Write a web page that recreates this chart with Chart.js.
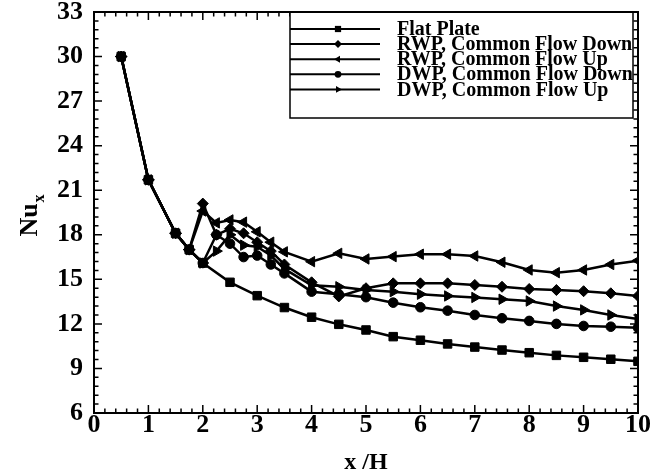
<!DOCTYPE html>
<html><head><meta charset="utf-8">
<script src="https://cdn.jsdelivr.net/npm/chart.js@4.4.1/dist/chart.umd.min.js"></script>
<style>html,body{margin:0;padding:0;background:#fff;} #wrap{width:668px;height:475px;}</style>
</head><body><div id="wrap"><canvas id="c" width="668" height="475"></canvas></div>
<script>
const xFlat = [0.5,1,1.5,1.75,2,2.5,3,3.5,4,4.5,5,5.5,6,6.5,7,7.5,8,8.5,9,9.5,10];
const flatPlate = [30,21.7,18.1,17.0,16.1,14.8,13.9,13.1,12.45,11.97,11.59,11.14,10.9,10.65,10.44,10.24,10.06,9.88,9.75,9.62,9.48];
const xWavy = [0.5,1,1.5,1.75,2,2.25,2.5,2.75,3,3.25,3.5,4,4.5,5,5.5,6,6.5,7,7.5,8,8.5,9,9.5,10];
const rwpDown = [30,21.7,18.1,17.0,20.1,18.0,18.4,18.1,17.5,16.9,16.0,14.8,13.85,14.4,14.73,14.73,14.73,14.62,14.5,14.35,14.28,14.2,14.06,13.88];
const rwpUp = [30,21.7,18.1,17.0,19.6,18.8,19.0,18.85,18.2,17.5,16.85,16.19,16.75,16.37,16.53,16.69,16.69,16.57,16.15,15.63,15.45,15.63,16.0,16.26];
const dwpDown = [30,21.7,18.1,17.0,16.1,18.0,17.4,16.5,16.6,16.0,15.4,14.17,14.0,13.8,13.43,13.12,12.89,12.6,12.38,12.2,12.0,11.86,11.81,11.74];
const dwpUp = [30,21.7,18.1,17.0,16.1,16.9,18.0,17.3,17.2,16.6,15.7,14.6,14.5,14.28,14.17,14.0,13.88,13.78,13.66,13.54,13.2,12.94,12.6,12.33];
const seriesNames = ['Flat Plate','RWP, Common Flow Down','RWP, Common Flow Up','DWP, Common Flow Down','DWP, Common Flow Up'];
const xTicks = [0,1,2,3,4,5,6,7,8,9,10];
const yTicks = [6,9,12,15,18,21,24,27,30,33];

const FONT = 'Liberation Serif';
function pts(xs, ys){ return xs.map((x,i)=>({x:x, y:ys[i]})); }
function ds(label, xs, ys, style, rot, r){
  return {label, data: pts(xs, ys), borderColor:'#000', backgroundColor:'#000', borderWidth:2.5,
    pointStyle:style, rotation:rot, pointRadius:r, pointBorderWidth:1, pointBackgroundColor:'#000', pointBorderColor:'#000',
    showLine:true, fill:false, tension:0};
}

function drawMarker(ctx, style, rot, r, x, y){
  ctx.beginPath();
  if(style==='rect'){ const s=r*0.78; ctx.rect(x-s,y-s,2*s,2*s); }
  else if(style==='rectRot'){ ctx.moveTo(x,y-r); ctx.lineTo(x+r,y); ctx.lineTo(x,y+r); ctx.lineTo(x-r,y); ctx.closePath(); }
  else if(style==='circle'){ ctx.arc(x,y,r*0.85,0,Math.PI*2); }
  else if(style==='triangle'){
    const a = rot*Math.PI/180;
    for(let k=0;k<3;k++){ const t=a - Math.PI/2 + k*2*Math.PI/3; const px=x+r*Math.cos(t), py=y+r*Math.sin(t); k?ctx.lineTo(px,py):ctx.moveTo(px,py);} ctx.closePath();
  }
  ctx.fill();
}

const decor = {
  id:'decor',
  afterDraw(chart){
    const ctx=chart.ctx, a=chart.chartArea, xs=chart.scales.x, ys=chart.scales.y;
    ctx.save();
    ctx.strokeStyle='#000';
    ctx.lineWidth=1.5;
    ctx.beginPath();
    for(let i=0;i<=50;i++){
      const px=xs.getPixelForValue(i*0.2); const len=(i%5===0)?8:4.5;
      ctx.moveTo(px,a.bottom); ctx.lineTo(px,a.bottom-len);
      ctx.moveTo(px,a.top); ctx.lineTo(px,a.top+len);
    }
    for(let i=0;i<=45;i++){
      const py=ys.getPixelForValue(6+i*0.6); const len=(i%5===0)?8:4.5;
      ctx.moveTo(a.left,py); ctx.lineTo(a.left+len,py);
      ctx.moveTo(a.right,py); ctx.lineTo(a.right-len,py);
    }
    ctx.stroke();

    // legend
    const lx0=290, lx1=633, ly0=a.top, ly1=118;
    ctx.fillStyle='#fff';
    ctx.fillRect(lx0,ly0,lx1-lx0,ly1-ly0);
    ctx.lineWidth=1.5;
    ctx.strokeRect(lx0,ly0,lx1-lx0,ly1-ly0);
    ctx.font='bold 20px "'+FONT+'"';
    ctx.textBaseline='middle'; ctx.textAlign='left';
    chart.data.datasets.forEach((d,i)=>{
      const y=29+i*15.1;
      ctx.strokeStyle='#000'; ctx.lineWidth=2;
      ctx.beginPath(); ctx.moveTo(lx0,y); ctx.lineTo(380,y); ctx.stroke();
      ctx.fillStyle='#000';
      drawMarker(ctx,d.pointStyle,d.rotation||0,4,338,y);
      ctx.fillText(d.label,397,y+1);
    });

    // frame
    ctx.strokeStyle='#000'; ctx.lineWidth=2;
    ctx.strokeRect(a.left,a.top,a.right-a.left,a.bottom-a.top);

    // y title Nu_x
    ctx.save();
    ctx.translate(37,216);
    ctx.rotate(-Math.PI/2);
    ctx.fillStyle='#000';
    ctx.textBaseline='alphabetic'; ctx.textAlign='left';
    ctx.font='bold 26px "'+FONT+'"';
    const w=ctx.measureText('Nu').width;
    ctx.font='bold 16px "'+FONT+'"';
    const ws=ctx.measureText('x').width;
    const start=-(w+ws)/2;
    ctx.font='bold 26px "'+FONT+'"';
    ctx.fillText('Nu',start,0);
    ctx.font='bold 16px "'+FONT+'"';
    ctx.fillText('x',start+w+1,7);
    ctx.restore();
    ctx.restore();
  }
};

new Chart(document.getElementById('c'), {
  type:'scatter',
  data:{ datasets:[
    ds(seriesNames[0], xFlat, flatPlate, 'rect', 0, 6),
    ds(seriesNames[1], xWavy, rwpDown, 'rectRot', 0, 5.5),
    ds(seriesNames[2], xWavy, rwpUp, 'triangle', -90, 6),
    ds(seriesNames[3], xWavy, dwpDown, 'circle', 0, 4.8),
    ds(seriesNames[4], xWavy, dwpUp, 'triangle', 90, 6)
  ]},
  options:{
    responsive:false, animation:false, devicePixelRatio:1,
    layout:{padding:{left:0,top:12,right:30,bottom:0}},
    plugins:{legend:{display:false}, tooltip:{enabled:false}},
    scales:{
      x:{type:'linear', min:0, max:10,
        afterBuildTicks:s=>{ s.ticks = xTicks.map(v=>({value:v})); },
        ticks:{font:{family:FONT,size:26,weight:'bold',lineHeight:0.9}, color:'#000', padding:1, maxRotation:0, autoSkip:false},
        grid:{display:false, drawTicks:false}, border:{display:false},
        title:{display:true, text:'x /H', font:{family:FONT,size:24,weight:'bold',lineHeight:1}, color:'#000', padding:{top:0,bottom:0}},
        afterFit:s=>{ s.height=62; }
      },
      y:{type:'linear', min:6, max:33,
        afterBuildTicks:s=>{ s.ticks = yTicks.map(v=>({value:v})); },
        ticks:{font:{family:FONT,size:26,weight:'bold',lineHeight:0.04}, color:'#000', padding:11, autoSkip:false},
        grid:{display:false, drawTicks:false}, border:{display:false},
        afterFit:s=>{ s.width=94; }
      }
    }
  },
  plugins:[decor]
});
</script></body></html>
